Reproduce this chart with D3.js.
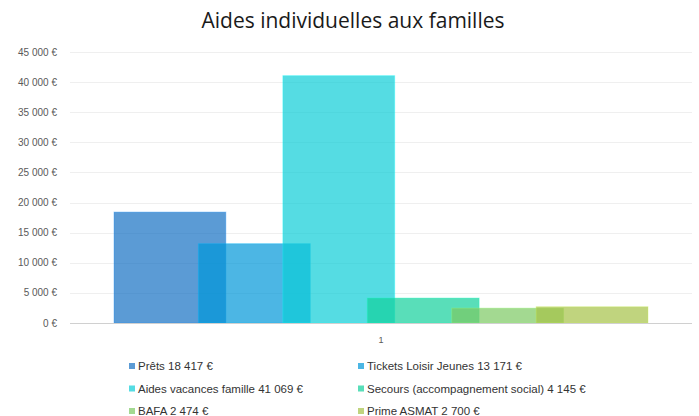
<!DOCTYPE html>
<html><head><meta charset="utf-8">
<script src="https://cdn.jsdelivr.net/npm/d3@7"></script>
<style>body{margin:0;background:#fff}</style>
</head><body>
<svg id="c" width="699" height="416"></svg>
<script>
const categories = ["1"];
const seriesNames = ["Prêts", "Tickets Loisir Jeunes", "Aides vacances famille", "Secours (accompagnement social)", "BAFA", "Prime ASMAT"];
const seriesValues = [18417, 13171, 41069, 4145, 2474, 2700];
const seriesLabels = ["18 417 €", "13 171 €", "41 069 €", "4 145 €", "2 474 €", "2 700 €"];
const seriesColors = ["#1570C3", "#0097D8", "#0DCDD7", "#12D09B", "#7CC962", "#A5C247"];
const yTicks = [0, 5000, 10000, 15000, 20000, 25000, 30000, 35000, 40000, 45000];
const title = "Aides individuelles aux familles";

const svg = d3.select("#c");
const m = {l: 70, r: 7, t: 52, b: 93};
const W = 699, H = 416;
const x = d3.scaleBand().domain(categories).range([m.l, W - m.r]).paddingInner(0).paddingOuter(0.0824);
const y = d3.scaleLinear().domain([0, 45000]).range([H - m.b, m.t]);

const fmt = v => d3.format(",")(v).replace(/,/g, " ") + " €";

// gridlines
svg.append("g").selectAll("line").data(yTicks.filter(d => d > 0)).join("line")
  .attr("x1", m.l).attr("x2", W - m.r)
  .attr("y1", d => Math.round(y(d)) + 0.5).attr("y2", d => Math.round(y(d)) + 0.5)
  .attr("stroke", "#efefef").attr("stroke-width", 1);

// y labels
svg.append("g").selectAll("text").data(yTicks).join("text")
  .attr("x", 57).attr("y", d => y(d) + 3.5)
  .attr("text-anchor", "end")
  .attr("font-family", "Liberation Sans, Arial, sans-serif").attr("font-size", 10)
  .attr("fill", "#595959").text(fmt);

// bars: overlapping clustered bars
const n = seriesValues.length;
const groupW = x.bandwidth();
const barW = groupW / (1 + (n - 1) * 0.755);
const step = barW * 0.755;
const inner = d3.scaleLinear().domain([0, n - 1]).range([0, (n - 1) * step]);

categories.forEach(cat => {
  svg.append("g").selectAll("rect").data(seriesValues).join("rect")
    .attr("x", (d, i) => x(cat) + inner(i))
    .attr("y", d => y(d))
    .attr("width", barW)
    .attr("height", d => y(0) - y(d))
    .attr("fill", (d, i) => seriesColors[i])
    .attr("fill-opacity", 0.7)
    .attr("stroke", (d, i) => d3.color(seriesColors[i]).brighter(0.6))
    .attr("stroke-opacity", 0.35)
    .attr("stroke-width", 1);
});

// x axis line
svg.append("line").attr("x1", m.l).attr("x2", W - m.r)
  .attr("y1", Math.round(y(0)) + 0.5).attr("y2", Math.round(y(0)) + 0.5)
  .attr("stroke", "#d0d0d0").attr("stroke-width", 1);

// category label
svg.append("g").selectAll("text").data(categories).join("text")
  .attr("x", d => x(d) + x.bandwidth() / 2).attr("y", 343)
  .attr("text-anchor", "middle")
  .attr("font-family", "Liberation Sans, Arial, sans-serif").attr("font-size", 9)
  .attr("fill", "#595959").text(d => d);

// title
svg.append("text").attr("x", 353).attr("y", 28).attr("text-anchor", "middle")
  .attr("font-family", "Open Sans, sans-serif").attr("font-size", 21)
  .attr("fill", "#1a1a1a").text(title);

// legend
const legX = [129, 358], legY = [366, 388.5, 411];
const leg = svg.append("g").selectAll("g").data(seriesNames).join("g")
  .attr("transform", (d, i) => `translate(${legX[i % 2]},${legY[Math.floor(i / 2)]})`);
leg.append("rect").attr("x", 0).attr("y", -3).attr("width", 6).attr("height", 6)
  .attr("fill", (d, i) => seriesColors[i]).attr("fill-opacity", 0.7);
leg.append("text").attr("x", 9).attr("y", 4)
  .attr("font-family", "Liberation Sans, Arial, sans-serif").attr("font-size", 11.5)
  .attr("fill", "#333").text((d, i) => d + " " + seriesLabels[i]);
</script>
</body></html>
